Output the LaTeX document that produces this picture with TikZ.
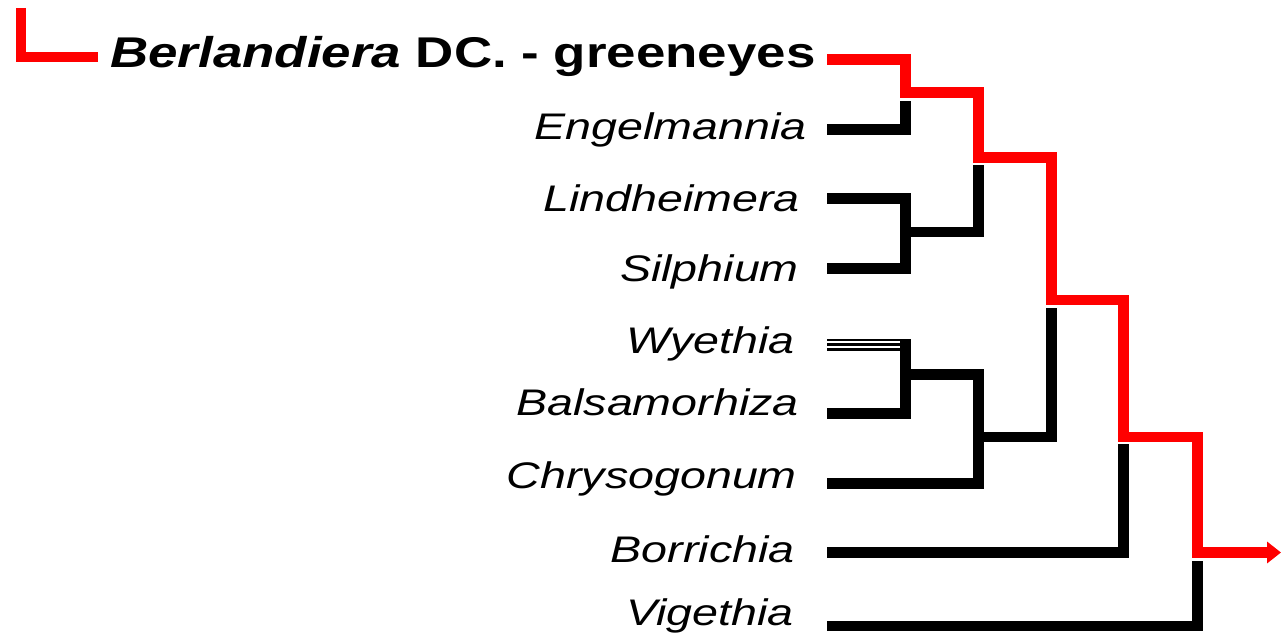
\documentclass[tikz,border=0pt]{standalone}
\usepackage{fontspec}
\setmainfont{Liberation Sans}
\usetikzlibrary{arrows.meta}
\tikzset{
  taxon/.style={anchor=base east, inner sep=0pt, font=\fontsize{37}{37}\selectfont\itshape},
  titlelabel/.style={anchor=base west, inner sep=0pt, font=\fontsize{43}{43}\selectfont\bfseries},
  branch/.style={draw=black, line width=10.5pt, line join=miter, line cap=butt},
  redbranch/.style={draw=red, line width=10.5pt, line join=miter, line cap=butt},
  thinbranch/.style={draw=black, line width=2.2pt, line cap=butt}
}
\newcommand{\stretchtext}[2]{\scalebox{#1}[1]{#2}}
\begin{document}
\begin{tikzpicture}[x=1pt,y=-1pt]
\useasboundingbox (0,0) rectangle (1281,644);
% labels
\node[titlelabel] (berl) at (110,68) {\stretchtext{1.23}{\textit{Berlandiera} DC. - greeneyes}};
\node[taxon] (engl) at (807,140) {\stretchtext{1.26}{Engelmannia}};
\node[taxon] (lind) at (800,212) {\stretchtext{1.26}{Lindheimera}};
\node[taxon] (silp) at (799,281) {\stretchtext{1.26}{Silphium}};
\node[taxon] (wyet) at (795,353) {\stretchtext{1.26}{Wyethia}};
\node[taxon] (bals) at (799,415) {\stretchtext{1.26}{Balsamorhiza}};
\node[taxon] (chry) at (797,488) {\stretchtext{1.26}{Chrysogonum}};
\node[taxon] (borr) at (795,562) {\stretchtext{1.26}{Borrichia}};
\node[taxon] (vige) at (794,625) {\stretchtext{1.26}{Vigethia}};
% leaf tips
\coordinate (tBerl) at (827,59.5);
\coordinate (tEngl) at (827,129.5);
\coordinate (tLind) at (827,198.5);
\coordinate (tSilp) at (827,268.5);
\coordinate (tBals) at (827,413.5);
\coordinate (tChry) at (827,483.5);
\coordinate (tBorr) at (827,552.5);
\coordinate (tVige) at (827,626);
% red incoming stub at top left
\coordinate (rA) at (21,8);
\coordinate (rB) at (21,57);
\coordinate (rC) at (98,57);
\draw[redbranch] (rA) -- (rB) -- (rC);
% red lineage
\coordinate (arrowEnd) at (1281,552.5);
\draw[redbranch, -{Triangle[length=14pt,width=21pt]}]
  (tBerl) -- (905.5,59.5) -- (905.5,92.5) -- (978.5,92.5) -- (978.5,157.5)
  -- (1051.5,157.5) -- (1051.5,300) -- (1123.5,300) -- (1123.5,437)
  -- (1197.5,437) -- (1197.5,552.5) -- (arrowEnd);
% black branches
\draw[branch] (tEngl) -- (905.5,129.5) -- (905.5,101);
\draw[branch] (tLind) -- (905.5,198.5) -- (905.5,268.5) -- (tSilp);
\draw[branch] (905.5,232) -- (978.5,232) -- (978.5,165);
\draw[thinbranch] (827,340) -- (900,340);
\draw[thinbranch] (827,344.5) -- (900,344.5);
\draw[thinbranch] (827,349.5) -- (900,349.5);
\draw[branch] (905.5,339) -- (905.5,413.5) -- (tBals);
\draw[branch] (905.5,374.5) -- (978.5,374.5) -- (978.5,483.5) -- (tChry);
\draw[branch] (978.5,437) -- (1051.5,437) -- (1051.5,308);
\draw[branch] (tBorr) -- (1123.5,552.5) -- (1123.5,444);
\draw[branch] (tVige) -- (1197.5,626) -- (1197.5,561);
\end{tikzpicture}
\end{document}
